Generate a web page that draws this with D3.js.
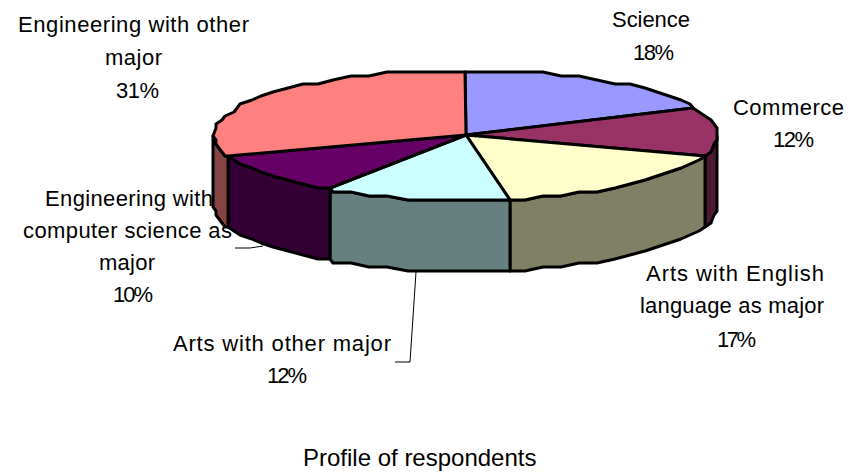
<!DOCTYPE html>
<html><head><meta charset="utf-8">
<script src="https://cdn.jsdelivr.net/npm/d3@7/dist/d3.min.js"></script>
<style>html,body{margin:0;background:#fff}svg{display:block}text{font-family:"Liberation Sans",Arial,sans-serif;font-size:22px;fill:#000}</style>
</head><body><svg id="c" width="865" height="472"></svg>
<script>
const categories=["Science","Commerce","Arts with English language as major","Arts with other major","Engineering with computer science as major","Engineering with other major"];
const values=[18,12,17.3,11.8,10.3,30.6];
const topColors=["#9999FF","#993366","#FFFFCC","#CCFFFF","#660066","#FF8080"];
const wallColors=["#4D4D80","#4D1A33","#808066","#668080","#330033","#844444"];
const nameLines=[["Science"],["Commerce"],["Arts with English","language as major"],["Arts with other major"],["Engineering with","computer science as","major"],["Engineering with other","major"]];
// each rendered line: [left, right, baseline]
const lineBoxes=[
 [[612,690,27],[633,674,60]],
 [[733,844,115],[773,814,147]],
 [[646,824,281],[640,824,313],[717,756,347]],
 [[173,391,351],[267,307,383]],
 [[45,213,206],[23,232,238],[99,155,270],[113,153,302]],
 [[18,249,32],[105,162,65],[116,159,98]]
];
const title="Profile of respondents";

const svg=d3.select("#c");
const cx=466,cy=135,rx=252,ry=65,depth=71;
const arcs=d3.pie().sort(null).value(d=>d)(values);
const X=d3.scaleLinear().domain([-1,1]).range([cx-rx,cx+rx]);
const Y=d3.scaleLinear().domain([-1,1]).range([cy-ry,cy+ry]);
// stepped, low-resolution outline like the original's rough rendering
const snap=t=>[Math.round(X(Math.sin(t))/3)*3,Math.round(Y(-Math.cos(t))/4)*4];
function rim(a,b){
  const step=Math.PI/40,pts=[snap(a)];
  for(let i=Math.ceil(a/step+0.2);i<=Math.floor(b/step-0.2);i++)pts.push(snap(i*step));
  pts.push(snap(b));
  return pts;
}
const line=d3.line();
const g=svg.append("g").attr("stroke","#000").attr("stroke-width",3).attr("stroke-linejoin","round");
// walls: only the part of each slice facing the viewer
arcs.forEach((d,i)=>{
  const a=Math.max(d.startAngle,Math.PI/2),b=Math.min(d.endAngle,Math.PI*1.5);
  if(b<=a)return;
  const t=rim(a,b),bot=t.map(p=>[p[0],p[1]+depth]).reverse();
  g.append("path").attr("d",line(t.concat(bot))+"Z").attr("fill",wallColors[i]);
});
arcs.forEach((d,i)=>{
  g.append("path").attr("d",line([[cx,cy]].concat(rim(d.startAngle,d.endAngle)))+"Z").attr("fill",topColors[i]);
});
// leader lines
const leaders=[[[235,248],[250,248],[263,246]],[[416,272],[410,362],[395,362]]];
svg.append("g").selectAll("path").data(leaders).join("path").attr("d",d=>line(d)).attr("fill","none").attr("stroke","#000").attr("stroke-width",1);
// labels
const pct=d3.format(".0f");
values.forEach((v,i)=>{
  const ls=nameLines[i].concat([pct(v)+"%"]);
  ls.forEach((s,j)=>{
    const b=lineBoxes[i][j];
    svg.append("text").attr("x",b[0]).attr("y",b[2]).attr("textLength",b[1]-b[0]).attr("lengthAdjust","spacing").text(s);
  });
});
svg.append("text").attr("x",303).attr("y",466).style("font-size","24px").text(title);
</script></body></html>
